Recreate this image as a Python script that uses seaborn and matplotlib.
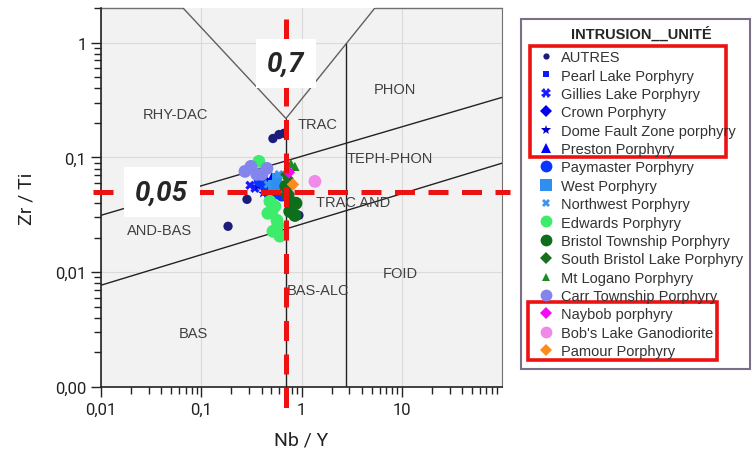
import numpy as np
import pandas as pd
import seaborn as sns
import matplotlib.pyplot as plt
from matplotlib.lines import Line2D
from matplotlib.patches import Rectangle
from matplotlib.ticker import LogLocator, FixedLocator, FixedFormatter, NullFormatter

# ---- data (Nb/Y , Zr/Ti) ----
units = ["AUTRES", "Pearl Lake Porphyry", "Gillies Lake Porphyry", "Crown Porphyry",
         "Dome Fault Zone porphyry", "Preston Porphyry", "Paymaster Porphyry", "West Porphyry",
         "Northwest Porphyry", "Edwards Porphyry", "Bristol Township Porphyry",
         "South Bristol Lake Porphyry", "Mt Logano Porphyry", "Carr Township Porphyry",
         "Naybob porphyry", "Bob's Lake Ganodiorite", "Pamour Porphyry"]

autres_x = [0.519, 0.596, 0.668, 0.286, 0.185, 0.942]
autres_y = [0.146, 0.158, 0.162, 0.0431, 0.0251, 0.0313]
pearl_x = [0.403, 0.484, 0.556]
pearl_y = [0.0594, 0.0618, 0.0538]
gillies_x = [0.306, 0.343]
gillies_y = [0.0571, 0.0538]
crown_x = [0.432, 0.462]
crown_y = [0.0631, 0.0517]
dome_x = [0.367, 0.412]
dome_y = [0.056, 0.0486]
preston_x = [0.507, 0.609]
preston_y = [0.0684, 0.0594]
paymaster_x = [0.385, 0.442, 0.638, 0.543, 0.484]
paymaster_y = [0.0618, 0.056, 0.0467, 0.0486, 0.0477]
west_x = [0.519, 0.569, 0.638]
west_y = [0.0571, 0.0657, 0.0538]
northwest_x = [0.462, 0.596]
northwest_y = [0.0582, 0.0711]
edwards_x = [0.376, 0.484, 0.507, 0.569, 0.519, 0.609, 0.582, 0.462, 0.543]
edwards_y = [0.0923, 0.0414, 0.0339, 0.0283, 0.0227, 0.0206, 0.0256, 0.0326, 0.0375]
bristol_x = [0.732, 0.802, 0.859, 0.766, 0.699, 0.877]
bristol_y = [0.0467, 0.0383, 0.0313, 0.0339, 0.056, 0.0398]
sbristol_x = [0.732, 0.699, 0.766]
sbristol_y = [0.0657, 0.0711, 0.0594]
logano_x = [0.784, 0.859, 0.732]
logano_y = [0.0887, 0.0835, 0.0802]
carr_x = [0.273, 0.313, 0.358, 0.452, 0.403]
carr_y = [0.0755, 0.0835, 0.0711, 0.0802, 0.0711]
naybob_x = [0.748]
naybob_y = [0.0741]
bobs_x = [1.36]
bobs_y = [0.0618]
pamour_x = [0.821]
pamour_y = [0.0582]

all_x = [autres_x, pearl_x, gillies_x, crown_x, dome_x, preston_x, paymaster_x, west_x,
         northwest_x, edwards_x, bristol_x, sbristol_x, logano_x, carr_x, naybob_x, bobs_x, pamour_x]
all_y = [autres_y, pearl_y, gillies_y, crown_y, dome_y, preston_y, paymaster_y, west_y,
         northwest_y, edwards_y, bristol_y, sbristol_y, logano_y, carr_y, naybob_y, bobs_y, pamour_y]

# diagram field boundaries (Nb/Y, Zr/Ti)
v_left = ([0.0658, 0.7], [2.0, 0.218])
v_right = ([0.7, 5.4], [0.218, 2.0])
vert_07 = ([0.7, 0.7], [0.218, 0.001])
vert_28 = ([2.8, 2.8], [0.97, 0.001])
slope_up = ([0.01, 100], [0.0313, 0.333])
slope_low = ([0.01, 100], [0.0077, 0.089])

fields = ["RHY-DAC", "TRAC", "PHON", "TEPH-PHON", "TRAC AND", "AND-BAS", "FOID", "BAS-ALC", "BAS"]
field_x = [0.0547, 1.46, 8.53, 7.6, 3.25, 0.0387, 9.57, 1.46, 0.0826]
field_y = [0.237, 0.194, 0.398, 0.098, 0.0406, 0.0232, 0.0098, 0.00697, 0.00295]

nby_cut = 0.7
zrti_cut = 0.05

# ---- styles ----
colors = ["#1c1c7a", "#0a1aff", "#1a1aff", "#0000ee", "#0000cc", "#0000ff", "#0636ff", "#2f8ff0",
          "#3a95ee", "#3cec6a", "#0f6e1c", "#16701e", "#1e8a24", "#8485ec", "#f20cf2", "#f08ae8", "#ff8a1c"]
markers = ["o", "s", "X", "D", "*", "^", "o", "s", "X", "o", "o", "D", "^", "o", "D", "o", "D"]
sizes = [45, 30, 45, 35, 55, 40, 80, 55, 40, 85, 90, 35, 45, 85, 40, 85, 40]
leg_ms = [4.5, 5, 6.5, 6, 7, 7, 8.5, 8, 6, 8.5, 8.5, 6, 6, 8.5, 6, 8.5, 6]

rows = []
for u, xs, ys in zip(units, all_x, all_y):
    for a, b in zip(xs, ys):
        rows.append({"unit": u, "nb_y": a, "zr_ti": b})
df = pd.DataFrame(rows)

sns.set_style("ticks", {"axes.facecolor": "#f2f2f2"})
plt.rcParams['font.family'] = ['Roboto', 'DejaVu Sans']

fig = plt.figure(figsize=(7.55, 4.56), dpi=100)
ax = fig.add_axes([101 / 755, 1 - 388 / 456, 401 / 755, 379 / 456])

sns.scatterplot(data=df, x="nb_y", y="zr_ti", hue="unit", style="unit", size="unit",
                palette=dict(zip(units, colors)), markers=dict(zip(units, markers)),
                sizes=dict(zip(units, sizes)), hue_order=units, style_order=units,
                size_order=units, linewidth=0, legend=False, ax=ax, zorder=3)

ax.set_xscale("log")
ax.set_yscale("log")
ax.set_xlim(0.01, 100)
ax.set_ylim(0.001, 2)

ax.xaxis.set_major_locator(FixedLocator([0.01, 0.1, 1, 10]))
ax.xaxis.set_major_formatter(FixedFormatter(["0,01", "0,1", "1", "10"]))
ax.yaxis.set_major_locator(FixedLocator([0.001, 0.01, 0.1, 1]))
ax.yaxis.set_major_formatter(FixedFormatter(["0,00", "0,01", "0,1", "1"]))
ax.xaxis.set_minor_locator(LogLocator(base=10, subs=np.arange(2, 10), numticks=20))
ax.yaxis.set_minor_locator(LogLocator(base=10, subs=np.arange(2, 10), numticks=20))
ax.xaxis.set_minor_formatter(NullFormatter())
ax.yaxis.set_minor_formatter(NullFormatter())
ax.tick_params(which="major", length=7, width=1, color="#222222", labelsize=12, labelcolor="#222222")
ax.tick_params(which="minor", length=5, width=1, color="#222222")
ax.grid(which="major", color="#dadada", lw=0.8, zorder=0)

ax.spines["top"].set_visible(False)
ax.spines["right"].set_color("#707070")
ax.spines["left"].set_color("#222222")
ax.spines["bottom"].set_color("#222222")
ax.spines["left"].set_linewidth(1.2)
ax.spines["bottom"].set_linewidth(1.2)

# top frame broken by the V lines
ax.plot([0.01, v_left[0][0]], [2, 2], color="#707070", lw=1, clip_on=False, zorder=2)
ax.plot([v_right[0][1], 100], [2, 2], color="#707070", lw=1, clip_on=False, zorder=2)

for seg in [v_left, v_right]:
    ax.plot(seg[0], seg[1], color="#606060", lw=1, zorder=2)
for seg in [vert_07, vert_28, slope_up, slope_low]:
    ax.plot(seg[0], seg[1], color="#222222", lw=1, zorder=2)

for t, a, b in zip(fields, field_x, field_y):
    ax.text(a, b, t, ha="center", va="center", fontsize=10.5, color="#404040",
            family=["Liberation Sans", "DejaVu Sans"], zorder=2)

# red guide lines
ax.plot([nby_cut, nby_cut], [1.62, 0.00066], color="#ee1111", lw=3.6, dashes=(4, 2.7),
        clip_on=False, zorder=5)
ax.plot([0.0083, 120], [zrti_cut, zrti_cut], color="#ee1111", lw=3.6, dashes=(4, 2.7),
        clip_on=False, zorder=5)
ax.text(nby_cut, 0.657, "0,7", fontsize=20, fontweight="bold", fontstyle="italic",
        ha="center", va="center", zorder=6,
        bbox=dict(boxstyle="square,pad=0.4", facecolor="white", edgecolor="none"))
ax.text(0.0406, zrti_cut, "0,05", fontsize=20, fontweight="bold", fontstyle="italic",
        ha="center", va="center", zorder=6,
        bbox=dict(boxstyle="square,pad=0.4", facecolor="white", edgecolor="none"))

ax.set_xlabel("Nb / Y", fontsize=14, color="#222222", labelpad=10)
ax.set_ylabel("Zr / Ti", fontsize=14, color="#222222", labelpad=14)

# legend
handles = [Line2D([], [], ls="none", marker=m, color=c, markersize=ms, markeredgewidth=0)
           for m, c, ms in zip(markers, colors, leg_ms)]
fig.patches.append(Rectangle((521 / 755, 1 - 370 / 456), 229 / 755, 350 / 456, fill=False,
                             edgecolor="#7a6f86", lw=1.5, transform=fig.transFigure, figure=fig))
leg = fig.legend(handles, units, loc="upper left", bbox_to_anchor=(529 / 755, 1 - 16 / 456),
                 frameon=False, title="INTRUSION__UNITÉ", handlelength=1.0,
                 handletextpad=0.5, labelspacing=0.30, borderpad=0.2,
                 prop={"family": ["Liberation Sans", "DejaVu Sans"], "size": 10.5})
leg.get_title().set_fontweight("bold")
leg.get_title().set_fontsize(10.5)
leg.get_title().set_family(["Liberation Sans", "DejaVu Sans"])
leg._legend_box.align = "center"
leg._legend_box.sep = 7
for txt in leg.get_texts():
    txt.set_color("#333333")

fig.patches.append(Rectangle((530 / 755, 1 - 158 / 456), 196 / 755, 111 / 456, fill=False,
                             edgecolor="#ee1111", lw=2.6, transform=fig.transFigure, figure=fig))
fig.patches.append(Rectangle((528 / 755, 1 - 361 / 456), 189 / 755, 58 / 456, fill=False,
                             edgecolor="#ee1111", lw=2.6, transform=fig.transFigure, figure=fig))

fig.savefig("out.png", dpi=100)
